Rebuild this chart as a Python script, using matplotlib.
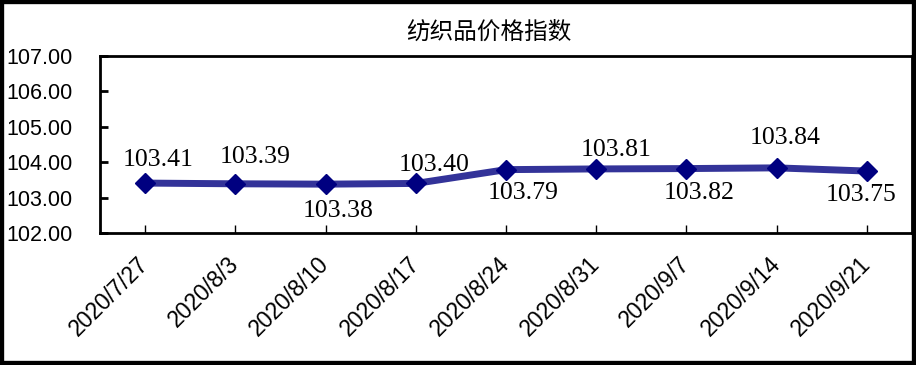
import matplotlib
matplotlib.use("Agg")
import matplotlib.pyplot as plt
from matplotlib.patches import Rectangle

plt.rcParams['font.family'] = ['Liberation Sans', 'DejaVu Sans']

categories = ["2020/7/27", "2020/8/3", "2020/8/10", "2020/8/17", "2020/8/24",
              "2020/8/31", "2020/9/7", "2020/9/14", "2020/9/21"]
values = [103.41, 103.39, 103.38, 103.40, 103.79, 103.81, 103.82, 103.84, 103.75]
# label offsets from point in pixels (positive = right / above)
label_dx = [13, 20, 13, 18, 17, 20, 13, 8, -6]
label_dy = [23, 26.5, -27, 18.5, -23.5, 19, -24.5, 29.5, -23.5]
yticks = [102.00, 103.00, 104.00, 105.00, 106.00, 107.00]
title = "纺织品价格指数"

fig = plt.figure(figsize=(9.16, 3.65), dpi=100)
ax = fig.add_axes([100/916, 1-233/365, 812/916, 177/365])

x = list(range(len(categories)))
ax.plot(x, values, color='#333399', lw=5, solid_capstyle='round', zorder=2)
ax.plot(x, values, linestyle='none', marker='D', ms=10, color='#000080', zorder=3)

for xi, v, dx, dy in zip(x, values, label_dx, label_dy):
    ax.annotate(f"{v:.2f}", (xi, v), xytext=(dx * 0.72, dy * 0.72), textcoords='offset points',
                ha='center', va='center',
                family=['Liberation Serif', 'DejaVu Serif'], fontsize=18.5, color='#000000')

ax.set_xlim(-0.5, len(categories) - 0.5)
ax.set_ylim(102, 107)
ax.set_yticks(yticks)
ax.set_yticklabels([f"{t:.2f}" for t in yticks], fontsize=15.5)
ax.set_xticks(x)
ax.set_xticklabels(categories, rotation=45, ha='right', va='center',
                   rotation_mode='anchor', fontsize=16.5)
ax.tick_params(axis='y', direction='in', length=6, width=2, pad=20)
ax.tick_params(axis='x', direction='in', length=6, width=1, pad=20)
for s in ax.spines.values():
    s.set_linewidth(2)

fig.text(489/916, 1-32/365, title, ha='center', va='center', fontsize=17,
         family=['Noto Sans CJK SC', 'DejaVu Sans'])

fig.patches.append(Rectangle((0, 0), 1, 1, transform=fig.transFigure, fill=False,
                             edgecolor='black', linewidth=6, zorder=10))

fig.savefig("out.png", dpi=100)
